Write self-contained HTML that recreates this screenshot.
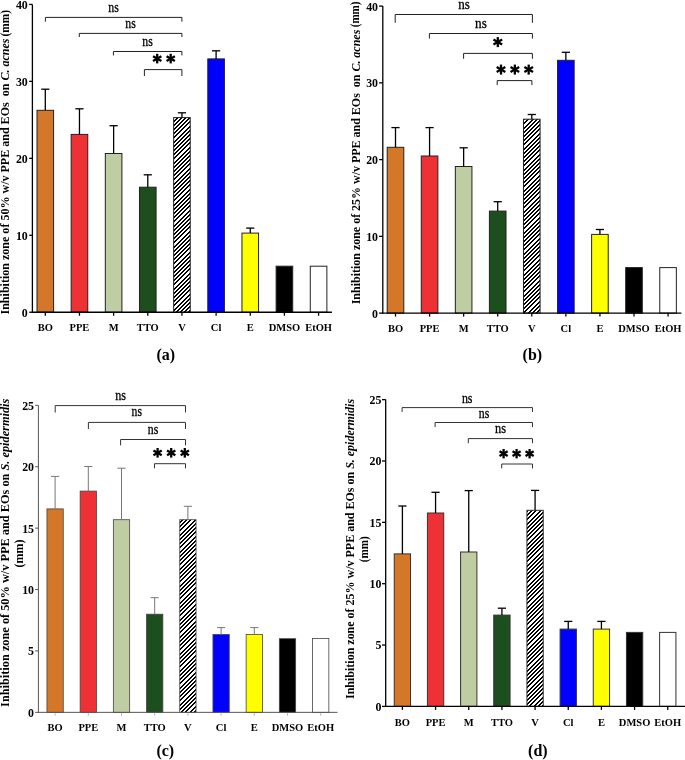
<!DOCTYPE html>
<html><head><meta charset="utf-8"><style>
html,body{margin:0;padding:0;background:#fff;width:685px;height:760px;overflow:hidden}
svg{display:block;font-family:"Liberation Serif",serif;will-change:transform}
</style></head><body>
<svg width="685" height="760" viewBox="0 0 685 760" font-family="Liberation Serif">
<defs><pattern id="h1" patternUnits="userSpaceOnUse" width="21" height="21"><rect width="21" height="21" fill="#fff"/><path d="M-4.200,0H-2.200L-23.200,21H-25.200Z M0.000,0H2.000L-19.000,21H-21.000Z M4.200,0H6.200L-14.800,21H-16.800Z M8.400,0H10.400L-10.600,21H-12.600Z M12.600,0H14.600L-6.400,21H-8.400Z M16.800,0H18.800L-2.200,21H-4.200Z M21.000,0H23.000L2.000,21H0.000Z M25.200,0H27.200L6.200,21H4.200Z M29.400,0H31.400L10.400,21H8.400Z M33.600,0H35.600L14.600,21H12.600Z M37.800,0H39.800L18.800,21H16.800Z M42.000,0H44.000L23.000,21H21.000Z M46.200,0H48.200L27.200,21H25.200Z" fill="#000" shape-rendering="crispEdges"/></pattern><pattern id="h2" patternUnits="userSpaceOnUse" width="17" height="17"><rect width="17" height="17" fill="#fff"/><path d="M-4.250,0H-2.250L-19.250,17H-21.250Z M0.000,0H2.000L-15.000,17H-17.000Z M4.250,0H6.250L-10.750,17H-12.750Z M8.500,0H10.500L-6.500,17H-8.500Z M12.750,0H14.750L-2.250,17H-4.250Z M17.000,0H19.000L2.000,17H0.000Z M21.250,0H23.250L6.250,17H4.250Z M25.500,0H27.500L10.500,17H8.500Z M29.750,0H31.750L14.750,17H12.750Z M34.000,0H36.000L19.000,17H17.000Z M38.250,0H40.250L23.250,17H21.250Z" fill="#000" shape-rendering="crispEdges"/></pattern></defs>
<rect x="37.00" y="110.30" width="16.60" height="201.95" fill="#D57729" stroke="#222" stroke-width="1.0"/>
<line x1="45.30" y1="89.20" x2="45.30" y2="110.30" stroke="#000" stroke-width="1.3"/>
<line x1="41.20" y1="89.20" x2="49.40" y2="89.20" stroke="#000" stroke-width="1.3"/>
<line x1="45.30" y1="312.25" x2="45.30" y2="315.75" stroke="#000" stroke-width="1.3"/>
<text transform="translate(45.30,331.20) scale(1.0000,1)" text-anchor="middle" font-size="10.5" font-weight="bold">BO</text>
<rect x="71.16" y="134.40" width="16.60" height="177.85" fill="#EE3135" stroke="#222" stroke-width="1.0"/>
<line x1="79.46" y1="108.80" x2="79.46" y2="134.40" stroke="#000" stroke-width="1.3"/>
<line x1="75.36" y1="108.80" x2="83.56" y2="108.80" stroke="#000" stroke-width="1.3"/>
<line x1="79.46" y1="312.25" x2="79.46" y2="315.75" stroke="#000" stroke-width="1.3"/>
<text transform="translate(79.46,331.20) scale(1.0000,1)" text-anchor="middle" font-size="10.5" font-weight="bold">PPE</text>
<rect x="105.32" y="153.50" width="16.60" height="158.75" fill="#C0CCA2" stroke="#222" stroke-width="1.0"/>
<line x1="113.62" y1="125.70" x2="113.62" y2="153.50" stroke="#000" stroke-width="1.3"/>
<line x1="109.52" y1="125.70" x2="117.72" y2="125.70" stroke="#000" stroke-width="1.3"/>
<line x1="113.62" y1="312.25" x2="113.62" y2="315.75" stroke="#000" stroke-width="1.3"/>
<text transform="translate(113.62,331.20) scale(1.0000,1)" text-anchor="middle" font-size="10.5" font-weight="bold">M</text>
<rect x="139.48" y="187.20" width="16.60" height="125.05" fill="#1C4E1E" stroke="#222" stroke-width="1.0"/>
<line x1="147.78" y1="174.80" x2="147.78" y2="187.20" stroke="#000" stroke-width="1.3"/>
<line x1="143.68" y1="174.80" x2="151.88" y2="174.80" stroke="#000" stroke-width="1.3"/>
<line x1="147.78" y1="312.25" x2="147.78" y2="315.75" stroke="#000" stroke-width="1.3"/>
<text transform="translate(147.78,331.20) scale(1.0000,1)" text-anchor="middle" font-size="10.5" font-weight="bold">TTO</text>
<rect x="173.64" y="117.60" width="16.60" height="194.65" fill="url(#h1)" stroke="#222" stroke-width="1.0"/>
<line x1="181.94" y1="112.80" x2="181.94" y2="117.60" stroke="#000" stroke-width="1.3"/>
<line x1="177.84" y1="112.80" x2="186.04" y2="112.80" stroke="#000" stroke-width="1.3"/>
<line x1="181.94" y1="312.25" x2="181.94" y2="315.75" stroke="#000" stroke-width="1.3"/>
<text transform="translate(181.94,331.20) scale(1.0000,1)" text-anchor="middle" font-size="10.5" font-weight="bold">V</text>
<rect x="207.80" y="58.90" width="16.60" height="253.35" fill="#0000FF" stroke="#222" stroke-width="1.0"/>
<line x1="216.10" y1="50.80" x2="216.10" y2="58.90" stroke="#000" stroke-width="1.3"/>
<line x1="212.00" y1="50.80" x2="220.20" y2="50.80" stroke="#000" stroke-width="1.3"/>
<line x1="216.10" y1="312.25" x2="216.10" y2="315.75" stroke="#000" stroke-width="1.3"/>
<text transform="translate(216.10,331.20) scale(1.0000,1)" text-anchor="middle" font-size="10.5" font-weight="bold">Cl</text>
<rect x="241.96" y="233.10" width="16.60" height="79.15" fill="#FFFF00" stroke="#222" stroke-width="1.0"/>
<line x1="250.26" y1="228.10" x2="250.26" y2="233.10" stroke="#000" stroke-width="1.3"/>
<line x1="246.16" y1="228.10" x2="254.36" y2="228.10" stroke="#000" stroke-width="1.3"/>
<line x1="250.26" y1="312.25" x2="250.26" y2="315.75" stroke="#000" stroke-width="1.3"/>
<text transform="translate(250.26,331.20) scale(1.0000,1)" text-anchor="middle" font-size="10.5" font-weight="bold">E</text>
<rect x="276.12" y="266.20" width="16.60" height="46.05" fill="#000000" stroke="#222" stroke-width="1.0"/>
<line x1="284.42" y1="312.25" x2="284.42" y2="315.75" stroke="#000" stroke-width="1.3"/>
<text transform="translate(284.42,331.20) scale(1.0000,1)" text-anchor="middle" font-size="10.5" font-weight="bold">DMSO</text>
<rect x="310.28" y="266.20" width="16.60" height="46.05" fill="#FFFFFF" stroke="#222" stroke-width="1.0"/>
<line x1="318.58" y1="312.25" x2="318.58" y2="315.75" stroke="#000" stroke-width="1.3"/>
<text transform="translate(318.58,331.20) scale(1.0000,1)" text-anchor="middle" font-size="10.5" font-weight="bold">EtOH</text>
<line x1="32.40" y1="4.40" x2="32.40" y2="312.90" stroke="#000" stroke-width="1.3"/>
<line x1="31.75" y1="312.25" x2="331.90" y2="312.25" stroke="#000" stroke-width="1.3"/>
<line x1="29.20" y1="312.25" x2="32.40" y2="312.25" stroke="#000" stroke-width="1.3"/>
<text transform="translate(27.80,316.65) scale(0.88,1)" text-anchor="end" font-size="13.5" font-weight="bold">0</text>
<line x1="29.20" y1="235.29" x2="32.40" y2="235.29" stroke="#000" stroke-width="1.3"/>
<text transform="translate(27.80,239.69) scale(0.88,1)" text-anchor="end" font-size="13.5" font-weight="bold">10</text>
<line x1="29.20" y1="158.33" x2="32.40" y2="158.33" stroke="#000" stroke-width="1.3"/>
<text transform="translate(27.80,162.73) scale(0.88,1)" text-anchor="end" font-size="13.5" font-weight="bold">20</text>
<line x1="29.20" y1="81.37" x2="32.40" y2="81.37" stroke="#000" stroke-width="1.3"/>
<text transform="translate(27.80,85.77) scale(0.88,1)" text-anchor="end" font-size="13.5" font-weight="bold">30</text>
<line x1="29.20" y1="4.41" x2="32.40" y2="4.41" stroke="#000" stroke-width="1.3"/>
<text transform="translate(27.80,8.81) scale(0.88,1)" text-anchor="end" font-size="13.5" font-weight="bold">40</text>
<path d="M45.40,21.70V17.40H181.90V21.70" fill="none" stroke="#222" stroke-width="1.0"/>
<path d="M79.30,37.00V33.40H181.90V37.00" fill="none" stroke="#222" stroke-width="1.0"/>
<path d="M113.40,55.40V51.50H181.90V55.40" fill="none" stroke="#222" stroke-width="1.0"/>
<path d="M144.40,76.00V69.60H181.90V76.00" fill="none" stroke="#222" stroke-width="1.0"/>
<text transform="translate(108.35,11.80) scale(1.009,1.22)" font-size="11.7" stroke="#000" stroke-width="0.25">ns</text>
<text transform="translate(125.35,27.70) scale(1.009,1.22)" font-size="11.7" stroke="#000" stroke-width="0.25">ns</text>
<text transform="translate(142.35,46.30) scale(1.009,1.22)" font-size="11.7" stroke="#000" stroke-width="0.25">ns</text>
<g stroke="#000" stroke-width="2.3"><line x1="157.20" y1="63.40" x2="157.20" y2="53.80"/><line x1="153.04" y1="61.00" x2="161.36" y2="56.20"/><line x1="161.36" y1="61.00" x2="153.04" y2="56.20"/></g>
<g stroke="#000" stroke-width="2.3"><line x1="170.70" y1="63.40" x2="170.70" y2="53.80"/><line x1="166.54" y1="61.00" x2="174.86" y2="56.20"/><line x1="174.86" y1="61.00" x2="166.54" y2="56.20"/></g>
<text transform="translate(8.70,314.50) rotate(-90)" font-size="11.8" font-weight="bold" textLength="276.00" lengthAdjust="spacingAndGlyphs">Inhibition zone of 50% w/v PPE and EOs&#160; on <tspan font-style="italic">C. acnes</tspan></text>
<text transform="translate(8.90,36.40) rotate(-90)" font-size="12.5" font-weight="bold" textLength="26.40" lengthAdjust="spacingAndGlyphs">(mm)</text>
<text transform="translate(165.80,359.90) scale(0.97,1)" text-anchor="middle" font-size="16.5" font-weight="bold">(a)</text>
<rect x="387.20" y="147.30" width="16.60" height="165.80" fill="#D57729" stroke="#222" stroke-width="1.0"/>
<line x1="395.50" y1="127.60" x2="395.50" y2="147.30" stroke="#000" stroke-width="1.3"/>
<line x1="391.40" y1="127.60" x2="399.60" y2="127.60" stroke="#000" stroke-width="1.3"/>
<line x1="395.50" y1="313.10" x2="395.50" y2="316.60" stroke="#000" stroke-width="1.3"/>
<text transform="translate(395.50,331.90) scale(1.0000,1)" text-anchor="middle" font-size="10.5" font-weight="bold">BO</text>
<rect x="421.27" y="156.00" width="16.60" height="157.10" fill="#EE3135" stroke="#222" stroke-width="1.0"/>
<line x1="429.57" y1="127.60" x2="429.57" y2="156.00" stroke="#000" stroke-width="1.3"/>
<line x1="425.47" y1="127.60" x2="433.67" y2="127.60" stroke="#000" stroke-width="1.3"/>
<line x1="429.57" y1="313.10" x2="429.57" y2="316.60" stroke="#000" stroke-width="1.3"/>
<text transform="translate(429.57,331.90) scale(1.0000,1)" text-anchor="middle" font-size="10.5" font-weight="bold">PPE</text>
<rect x="455.34" y="166.50" width="16.60" height="146.60" fill="#C0CCA2" stroke="#222" stroke-width="1.0"/>
<line x1="463.64" y1="147.80" x2="463.64" y2="166.50" stroke="#000" stroke-width="1.3"/>
<line x1="459.54" y1="147.80" x2="467.74" y2="147.80" stroke="#000" stroke-width="1.3"/>
<line x1="463.64" y1="313.10" x2="463.64" y2="316.60" stroke="#000" stroke-width="1.3"/>
<text transform="translate(463.64,331.90) scale(1.0000,1)" text-anchor="middle" font-size="10.5" font-weight="bold">M</text>
<rect x="489.41" y="211.10" width="16.60" height="102.00" fill="#1C4E1E" stroke="#222" stroke-width="1.0"/>
<line x1="497.71" y1="201.70" x2="497.71" y2="211.10" stroke="#000" stroke-width="1.3"/>
<line x1="493.61" y1="201.70" x2="501.81" y2="201.70" stroke="#000" stroke-width="1.3"/>
<line x1="497.71" y1="313.10" x2="497.71" y2="316.60" stroke="#000" stroke-width="1.3"/>
<text transform="translate(497.71,331.90) scale(1.0000,1)" text-anchor="middle" font-size="10.5" font-weight="bold">TTO</text>
<rect x="523.48" y="119.20" width="16.60" height="193.90" fill="url(#h1)" stroke="#222" stroke-width="1.0"/>
<line x1="531.78" y1="114.50" x2="531.78" y2="119.20" stroke="#000" stroke-width="1.3"/>
<line x1="527.68" y1="114.50" x2="535.88" y2="114.50" stroke="#000" stroke-width="1.3"/>
<line x1="531.78" y1="313.10" x2="531.78" y2="316.60" stroke="#000" stroke-width="1.3"/>
<text transform="translate(531.78,331.90) scale(1.0000,1)" text-anchor="middle" font-size="10.5" font-weight="bold">V</text>
<rect x="557.55" y="60.30" width="16.60" height="252.80" fill="#0000FF" stroke="#222" stroke-width="1.0"/>
<line x1="565.85" y1="52.30" x2="565.85" y2="60.30" stroke="#000" stroke-width="1.3"/>
<line x1="561.75" y1="52.30" x2="569.95" y2="52.30" stroke="#000" stroke-width="1.3"/>
<line x1="565.85" y1="313.10" x2="565.85" y2="316.60" stroke="#000" stroke-width="1.3"/>
<text transform="translate(565.85,331.90) scale(1.0000,1)" text-anchor="middle" font-size="10.5" font-weight="bold">Cl</text>
<rect x="591.62" y="234.40" width="16.60" height="78.70" fill="#FFFF00" stroke="#222" stroke-width="1.0"/>
<line x1="599.92" y1="229.50" x2="599.92" y2="234.40" stroke="#000" stroke-width="1.3"/>
<line x1="595.82" y1="229.50" x2="604.02" y2="229.50" stroke="#000" stroke-width="1.3"/>
<line x1="599.92" y1="313.10" x2="599.92" y2="316.60" stroke="#000" stroke-width="1.3"/>
<text transform="translate(599.92,331.90) scale(1.0000,1)" text-anchor="middle" font-size="10.5" font-weight="bold">E</text>
<rect x="625.69" y="267.60" width="16.60" height="45.50" fill="#000000" stroke="#222" stroke-width="1.0"/>
<line x1="633.99" y1="313.10" x2="633.99" y2="316.60" stroke="#000" stroke-width="1.3"/>
<text transform="translate(633.99,331.90) scale(1.0000,1)" text-anchor="middle" font-size="10.5" font-weight="bold">DMSO</text>
<rect x="659.76" y="267.60" width="16.60" height="45.50" fill="#FFFFFF" stroke="#222" stroke-width="1.0"/>
<line x1="668.06" y1="313.10" x2="668.06" y2="316.60" stroke="#000" stroke-width="1.3"/>
<text transform="translate(668.06,331.90) scale(1.0000,1)" text-anchor="middle" font-size="10.5" font-weight="bold">EtOH</text>
<line x1="382.80" y1="6.10" x2="382.80" y2="313.75" stroke="#000" stroke-width="1.3"/>
<line x1="382.15" y1="313.10" x2="681.40" y2="313.10" stroke="#000" stroke-width="1.3"/>
<line x1="379.10" y1="313.10" x2="382.80" y2="313.10" stroke="#000" stroke-width="1.3"/>
<text transform="translate(378.00,317.50) scale(0.88,1)" text-anchor="end" font-size="13.5" font-weight="bold">0</text>
<line x1="379.10" y1="236.35" x2="382.80" y2="236.35" stroke="#000" stroke-width="1.3"/>
<text transform="translate(378.00,240.75) scale(0.88,1)" text-anchor="end" font-size="13.5" font-weight="bold">10</text>
<line x1="379.10" y1="159.60" x2="382.80" y2="159.60" stroke="#000" stroke-width="1.3"/>
<text transform="translate(378.00,164.00) scale(0.88,1)" text-anchor="end" font-size="13.5" font-weight="bold">20</text>
<line x1="379.10" y1="82.85" x2="382.80" y2="82.85" stroke="#000" stroke-width="1.3"/>
<text transform="translate(378.00,87.25) scale(0.88,1)" text-anchor="end" font-size="13.5" font-weight="bold">30</text>
<line x1="379.10" y1="6.10" x2="382.80" y2="6.10" stroke="#000" stroke-width="1.3"/>
<text transform="translate(378.00,10.50) scale(0.88,1)" text-anchor="end" font-size="13.5" font-weight="bold">40</text>
<path d="M395.20,22.80V14.50H532.40V22.80" fill="none" stroke="#222" stroke-width="1.0"/>
<path d="M429.40,38.60V33.50H532.40V38.60" fill="none" stroke="#222" stroke-width="1.0"/>
<path d="M463.60,58.80V53.40H532.40V58.80" fill="none" stroke="#222" stroke-width="1.0"/>
<path d="M497.20,85.10V80.60H531.90V85.10" fill="none" stroke="#222" stroke-width="1.0"/>
<text transform="translate(458.30,9.20) scale(1.115,1.22)" font-size="11.7" stroke="#000" stroke-width="0.25">ns</text>
<text transform="translate(475.10,28.40) scale(1.134,1.22)" font-size="11.7" stroke="#000" stroke-width="0.25">ns</text>
<g stroke="#000" stroke-width="2.3"><line x1="497.80" y1="47.10" x2="497.80" y2="37.10"/><line x1="493.47" y1="44.60" x2="502.13" y2="39.60"/><line x1="502.13" y1="44.60" x2="493.47" y2="39.60"/></g>
<g stroke="#000" stroke-width="2.3"><line x1="501.00" y1="74.60" x2="501.00" y2="64.60"/><line x1="496.67" y1="72.10" x2="505.33" y2="67.10"/><line x1="505.33" y1="72.10" x2="496.67" y2="67.10"/></g>
<g stroke="#000" stroke-width="2.3"><line x1="514.85" y1="74.60" x2="514.85" y2="64.60"/><line x1="510.52" y1="72.10" x2="519.18" y2="67.10"/><line x1="519.18" y1="72.10" x2="510.52" y2="67.10"/></g>
<g stroke="#000" stroke-width="2.3"><line x1="528.70" y1="74.60" x2="528.70" y2="64.60"/><line x1="524.37" y1="72.10" x2="533.03" y2="67.10"/><line x1="533.03" y1="72.10" x2="524.37" y2="67.10"/></g>
<text transform="translate(359.60,304.30) rotate(-90)" font-size="11.8" font-weight="bold" textLength="274.60" lengthAdjust="spacingAndGlyphs">Inhibition zone of 25% w/v PPE and EOs&#160; on <tspan font-style="italic">C. acnes</tspan></text>
<text transform="translate(358.90,27.20) rotate(-90)" font-size="11.6" font-weight="bold" textLength="25.60" lengthAdjust="spacingAndGlyphs">(mm)</text>
<text transform="translate(532.35,360.00) scale(0.97,1)" text-anchor="middle" font-size="16.5" font-weight="bold">(b)</text>
<rect x="46.95" y="508.90" width="16.30" height="203.45" fill="#D57729" stroke="#444" stroke-width="0.8"/>
<line x1="55.10" y1="476.40" x2="55.10" y2="508.90" stroke="#777" stroke-width="1.0"/>
<line x1="51.00" y1="476.40" x2="59.20" y2="476.40" stroke="#777" stroke-width="1.0"/>
<line x1="55.10" y1="712.35" x2="55.10" y2="715.75" stroke="#bbb" stroke-width="1.0"/>
<text transform="translate(55.10,731.00) scale(1.0000,1)" text-anchor="middle" font-size="10.5" font-weight="bold">BO</text>
<rect x="80.15" y="491.10" width="16.30" height="221.25" fill="#EE3135" stroke="#444" stroke-width="0.8"/>
<line x1="88.30" y1="466.50" x2="88.30" y2="491.10" stroke="#777" stroke-width="1.0"/>
<line x1="84.20" y1="466.50" x2="92.40" y2="466.50" stroke="#777" stroke-width="1.0"/>
<line x1="88.30" y1="712.35" x2="88.30" y2="715.75" stroke="#bbb" stroke-width="1.0"/>
<text transform="translate(88.30,731.00) scale(1.0000,1)" text-anchor="middle" font-size="10.5" font-weight="bold">PPE</text>
<rect x="113.35" y="519.70" width="16.30" height="192.65" fill="#C0CCA2" stroke="#444" stroke-width="0.8"/>
<line x1="121.50" y1="468.20" x2="121.50" y2="519.70" stroke="#777" stroke-width="1.0"/>
<line x1="117.40" y1="468.20" x2="125.60" y2="468.20" stroke="#777" stroke-width="1.0"/>
<line x1="121.50" y1="712.35" x2="121.50" y2="715.75" stroke="#bbb" stroke-width="1.0"/>
<text transform="translate(121.50,731.00) scale(1.0000,1)" text-anchor="middle" font-size="10.5" font-weight="bold">M</text>
<rect x="146.55" y="614.20" width="16.30" height="98.15" fill="#1C4E1E" stroke="#444" stroke-width="0.8"/>
<line x1="154.70" y1="597.70" x2="154.70" y2="614.20" stroke="#777" stroke-width="1.0"/>
<line x1="150.60" y1="597.70" x2="158.80" y2="597.70" stroke="#777" stroke-width="1.0"/>
<line x1="154.70" y1="712.35" x2="154.70" y2="715.75" stroke="#bbb" stroke-width="1.0"/>
<text transform="translate(154.70,731.00) scale(1.0000,1)" text-anchor="middle" font-size="10.5" font-weight="bold">TTO</text>
<rect x="179.75" y="519.70" width="16.30" height="192.65" fill="url(#h2)" stroke="#444" stroke-width="0.8"/>
<line x1="187.90" y1="506.30" x2="187.90" y2="519.70" stroke="#777" stroke-width="1.0"/>
<line x1="183.80" y1="506.30" x2="192.00" y2="506.30" stroke="#777" stroke-width="1.0"/>
<line x1="187.90" y1="712.35" x2="187.90" y2="715.75" stroke="#bbb" stroke-width="1.0"/>
<text transform="translate(187.90,731.00) scale(1.0000,1)" text-anchor="middle" font-size="10.5" font-weight="bold">V</text>
<rect x="212.95" y="634.50" width="16.30" height="77.85" fill="#0000FF" stroke="#444" stroke-width="0.8"/>
<line x1="221.10" y1="627.60" x2="221.10" y2="634.50" stroke="#777" stroke-width="1.0"/>
<line x1="217.00" y1="627.60" x2="225.20" y2="627.60" stroke="#777" stroke-width="1.0"/>
<line x1="221.10" y1="712.35" x2="221.10" y2="715.75" stroke="#bbb" stroke-width="1.0"/>
<text transform="translate(221.10,731.00) scale(1.0000,1)" text-anchor="middle" font-size="10.5" font-weight="bold">Cl</text>
<rect x="246.15" y="634.50" width="16.30" height="77.85" fill="#FFFF00" stroke="#444" stroke-width="0.8"/>
<line x1="254.30" y1="627.60" x2="254.30" y2="634.50" stroke="#777" stroke-width="1.0"/>
<line x1="250.20" y1="627.60" x2="258.40" y2="627.60" stroke="#777" stroke-width="1.0"/>
<line x1="254.30" y1="712.35" x2="254.30" y2="715.75" stroke="#bbb" stroke-width="1.0"/>
<text transform="translate(254.30,731.00) scale(1.0000,1)" text-anchor="middle" font-size="10.5" font-weight="bold">E</text>
<rect x="279.35" y="638.70" width="16.30" height="73.65" fill="#000000" stroke="#444" stroke-width="0.8"/>
<line x1="287.50" y1="712.35" x2="287.50" y2="715.75" stroke="#bbb" stroke-width="1.0"/>
<text transform="translate(287.50,731.00) scale(1.0000,1)" text-anchor="middle" font-size="10.5" font-weight="bold">DMSO</text>
<rect x="312.55" y="638.40" width="16.30" height="73.95" fill="#FFFFFF" stroke="#444" stroke-width="0.8"/>
<line x1="320.70" y1="712.35" x2="320.70" y2="715.75" stroke="#bbb" stroke-width="1.0"/>
<text transform="translate(320.70,731.00) scale(1.0000,1)" text-anchor="middle" font-size="10.5" font-weight="bold">EtOH</text>
<line x1="38.40" y1="405.30" x2="38.40" y2="712.85" stroke="#555" stroke-width="1.0"/>
<line x1="37.90" y1="712.35" x2="337.50" y2="712.35" stroke="#555" stroke-width="1.0"/>
<line x1="35.20" y1="712.35" x2="38.40" y2="712.35" stroke="#555" stroke-width="1.0"/>
<text transform="translate(34.00,716.75) scale(0.88,1)" text-anchor="end" font-size="13.5" font-weight="bold">0</text>
<line x1="35.20" y1="650.95" x2="38.40" y2="650.95" stroke="#555" stroke-width="1.0"/>
<text transform="translate(34.00,655.35) scale(0.88,1)" text-anchor="end" font-size="13.5" font-weight="bold">5</text>
<line x1="35.20" y1="589.55" x2="38.40" y2="589.55" stroke="#555" stroke-width="1.0"/>
<text transform="translate(34.00,593.95) scale(0.88,1)" text-anchor="end" font-size="13.5" font-weight="bold">10</text>
<line x1="35.20" y1="528.15" x2="38.40" y2="528.15" stroke="#555" stroke-width="1.0"/>
<text transform="translate(34.00,532.55) scale(0.88,1)" text-anchor="end" font-size="13.5" font-weight="bold">15</text>
<line x1="35.20" y1="466.75" x2="38.40" y2="466.75" stroke="#555" stroke-width="1.0"/>
<text transform="translate(34.00,471.15) scale(0.88,1)" text-anchor="end" font-size="13.5" font-weight="bold">20</text>
<line x1="35.20" y1="405.35" x2="38.40" y2="405.35" stroke="#555" stroke-width="1.0"/>
<text transform="translate(34.00,409.75) scale(0.88,1)" text-anchor="end" font-size="13.5" font-weight="bold">25</text>
<path d="M55.20,412.50V405.60H185.50V412.50" fill="none" stroke="#333" stroke-width="1.0"/>
<path d="M88.40,429.00V422.40H185.50V429.00" fill="none" stroke="#333" stroke-width="1.0"/>
<path d="M120.60,445.40V439.50H185.50V445.40" fill="none" stroke="#333" stroke-width="1.0"/>
<path d="M154.50,468.30V463.70H185.50V468.30" fill="none" stroke="#333" stroke-width="1.0"/>
<text transform="translate(115.20,400.00) scale(1.038,1.22)" font-size="11.7" stroke="#000" stroke-width="0.25">ns</text>
<text transform="translate(131.60,416.40) scale(1.000,1.22)" font-size="11.7" stroke="#000" stroke-width="0.25">ns</text>
<text transform="translate(147.85,434.40) scale(1.009,1.22)" font-size="11.7" stroke="#000" stroke-width="0.25">ns</text>
<g stroke="#000" stroke-width="2.3"><line x1="157.60" y1="457.60" x2="157.60" y2="448.00"/><line x1="153.44" y1="455.20" x2="161.76" y2="450.40"/><line x1="161.76" y1="455.20" x2="153.44" y2="450.40"/></g>
<g stroke="#000" stroke-width="2.3"><line x1="171.20" y1="457.60" x2="171.20" y2="448.00"/><line x1="167.04" y1="455.20" x2="175.36" y2="450.40"/><line x1="175.36" y1="455.20" x2="167.04" y2="450.40"/></g>
<g stroke="#000" stroke-width="2.3"><line x1="184.80" y1="457.60" x2="184.80" y2="448.00"/><line x1="180.64" y1="455.20" x2="188.96" y2="450.40"/><line x1="188.96" y1="455.20" x2="180.64" y2="450.40"/></g>
<text transform="translate(9.40,706.90) rotate(-90)" font-size="11.8" font-weight="bold" textLength="308.20" lengthAdjust="spacingAndGlyphs">Inhibition zone of 50% w/v PPE and EOs on <tspan font-style="italic">S. epidermidis</tspan></text>
<text transform="translate(23.10,567.40) rotate(-90)" font-size="11.8" font-weight="bold" textLength="27.80" lengthAdjust="spacingAndGlyphs">(mm)</text>
<text transform="translate(165.30,756.00) scale(0.97,1)" text-anchor="middle" font-size="16.5" font-weight="bold">(c)</text>
<rect x="394.25" y="553.90" width="16.30" height="152.50" fill="#D57729" stroke="#333" stroke-width="1.0"/>
<line x1="402.40" y1="506.00" x2="402.40" y2="553.90" stroke="#000" stroke-width="1.3"/>
<line x1="398.30" y1="506.00" x2="406.50" y2="506.00" stroke="#000" stroke-width="1.3"/>
<line x1="402.40" y1="706.40" x2="402.40" y2="709.90" stroke="#000" stroke-width="1.3"/>
<text transform="translate(402.40,725.60) scale(1.0000,1)" text-anchor="middle" font-size="10.5" font-weight="bold">BO</text>
<rect x="427.42" y="513.00" width="16.30" height="193.40" fill="#EE3135" stroke="#333" stroke-width="1.0"/>
<line x1="435.57" y1="492.30" x2="435.57" y2="513.00" stroke="#000" stroke-width="1.3"/>
<line x1="431.47" y1="492.30" x2="439.67" y2="492.30" stroke="#000" stroke-width="1.3"/>
<line x1="435.57" y1="706.40" x2="435.57" y2="709.90" stroke="#000" stroke-width="1.3"/>
<text transform="translate(435.57,725.60) scale(1.0000,1)" text-anchor="middle" font-size="10.5" font-weight="bold">PPE</text>
<rect x="460.59" y="552.00" width="16.30" height="154.40" fill="#C0CCA2" stroke="#333" stroke-width="1.0"/>
<line x1="468.74" y1="490.60" x2="468.74" y2="552.00" stroke="#000" stroke-width="1.3"/>
<line x1="464.64" y1="490.60" x2="472.84" y2="490.60" stroke="#000" stroke-width="1.3"/>
<line x1="468.74" y1="706.40" x2="468.74" y2="709.90" stroke="#000" stroke-width="1.3"/>
<text transform="translate(468.74,725.60) scale(1.0000,1)" text-anchor="middle" font-size="10.5" font-weight="bold">M</text>
<rect x="493.76" y="615.10" width="16.30" height="91.30" fill="#1C4E1E" stroke="#333" stroke-width="1.0"/>
<line x1="501.91" y1="608.20" x2="501.91" y2="615.10" stroke="#000" stroke-width="1.3"/>
<line x1="497.81" y1="608.20" x2="506.01" y2="608.20" stroke="#000" stroke-width="1.3"/>
<line x1="501.91" y1="706.40" x2="501.91" y2="709.90" stroke="#000" stroke-width="1.3"/>
<text transform="translate(501.91,725.60) scale(1.0000,1)" text-anchor="middle" font-size="10.5" font-weight="bold">TTO</text>
<rect x="526.93" y="510.30" width="16.30" height="196.10" fill="url(#h1)" stroke="#333" stroke-width="1.0"/>
<line x1="535.08" y1="490.40" x2="535.08" y2="510.30" stroke="#000" stroke-width="1.3"/>
<line x1="530.98" y1="490.40" x2="539.18" y2="490.40" stroke="#000" stroke-width="1.3"/>
<line x1="535.08" y1="706.40" x2="535.08" y2="709.90" stroke="#000" stroke-width="1.3"/>
<text transform="translate(535.08,725.60) scale(1.0000,1)" text-anchor="middle" font-size="10.5" font-weight="bold">V</text>
<rect x="560.10" y="629.10" width="16.30" height="77.30" fill="#0000FF" stroke="#333" stroke-width="1.0"/>
<line x1="568.25" y1="621.40" x2="568.25" y2="629.10" stroke="#000" stroke-width="1.3"/>
<line x1="564.15" y1="621.40" x2="572.35" y2="621.40" stroke="#000" stroke-width="1.3"/>
<line x1="568.25" y1="706.40" x2="568.25" y2="709.90" stroke="#000" stroke-width="1.3"/>
<text transform="translate(568.25,725.60) scale(1.0000,1)" text-anchor="middle" font-size="10.5" font-weight="bold">Cl</text>
<rect x="593.27" y="629.10" width="16.30" height="77.30" fill="#FFFF00" stroke="#333" stroke-width="1.0"/>
<line x1="601.42" y1="621.40" x2="601.42" y2="629.10" stroke="#000" stroke-width="1.3"/>
<line x1="597.32" y1="621.40" x2="605.52" y2="621.40" stroke="#000" stroke-width="1.3"/>
<line x1="601.42" y1="706.40" x2="601.42" y2="709.90" stroke="#000" stroke-width="1.3"/>
<text transform="translate(601.42,725.60) scale(1.0000,1)" text-anchor="middle" font-size="10.5" font-weight="bold">E</text>
<rect x="626.44" y="632.40" width="16.30" height="74.00" fill="#000000" stroke="#333" stroke-width="1.0"/>
<line x1="634.59" y1="706.40" x2="634.59" y2="709.90" stroke="#000" stroke-width="1.3"/>
<text transform="translate(634.59,725.60) scale(1.0000,1)" text-anchor="middle" font-size="10.5" font-weight="bold">DMSO</text>
<rect x="659.61" y="632.40" width="16.30" height="74.00" fill="#FFFFFF" stroke="#333" stroke-width="1.0"/>
<line x1="667.76" y1="706.40" x2="667.76" y2="709.90" stroke="#000" stroke-width="1.3"/>
<text transform="translate(667.76,725.60) scale(1.0000,1)" text-anchor="middle" font-size="10.5" font-weight="bold">EtOH</text>
<line x1="385.70" y1="399.50" x2="385.70" y2="707.05" stroke="#000" stroke-width="1.3"/>
<line x1="385.05" y1="706.40" x2="685.00" y2="706.40" stroke="#000" stroke-width="1.3"/>
<line x1="382.00" y1="706.40" x2="385.70" y2="706.40" stroke="#000" stroke-width="1.3"/>
<text transform="translate(381.40,710.80) scale(0.88,1)" text-anchor="end" font-size="13.5" font-weight="bold">0</text>
<line x1="382.00" y1="645.05" x2="385.70" y2="645.05" stroke="#000" stroke-width="1.3"/>
<text transform="translate(381.40,649.45) scale(0.88,1)" text-anchor="end" font-size="13.5" font-weight="bold">5</text>
<line x1="382.00" y1="583.70" x2="385.70" y2="583.70" stroke="#000" stroke-width="1.3"/>
<text transform="translate(381.40,588.10) scale(0.88,1)" text-anchor="end" font-size="13.5" font-weight="bold">10</text>
<line x1="382.00" y1="522.35" x2="385.70" y2="522.35" stroke="#000" stroke-width="1.3"/>
<text transform="translate(381.40,526.75) scale(0.88,1)" text-anchor="end" font-size="13.5" font-weight="bold">15</text>
<line x1="382.00" y1="461.00" x2="385.70" y2="461.00" stroke="#000" stroke-width="1.3"/>
<text transform="translate(381.40,465.40) scale(0.88,1)" text-anchor="end" font-size="13.5" font-weight="bold">20</text>
<line x1="382.00" y1="399.65" x2="385.70" y2="399.65" stroke="#000" stroke-width="1.3"/>
<text transform="translate(381.40,404.05) scale(0.88,1)" text-anchor="end" font-size="13.5" font-weight="bold">25</text>
<path d="M402.10,411.90V407.60H532.50V411.90" fill="none" stroke="#333" stroke-width="1.0"/>
<path d="M435.10,427.10V422.50H532.50V427.10" fill="none" stroke="#333" stroke-width="1.0"/>
<path d="M468.30,443.20V438.60H532.50V443.20" fill="none" stroke="#333" stroke-width="1.0"/>
<path d="M501.70,468.40V464.00H532.50V468.40" fill="none" stroke="#333" stroke-width="1.0"/>
<text transform="translate(461.90,402.50) scale(1.019,1.22)" font-size="11.7" stroke="#000" stroke-width="0.25">ns</text>
<text transform="translate(478.75,417.70) scale(1.009,1.22)" font-size="11.7" stroke="#000" stroke-width="0.25">ns</text>
<text transform="translate(495.10,433.40) scale(1.058,1.22)" font-size="11.7" stroke="#000" stroke-width="0.25">ns</text>
<g stroke="#000" stroke-width="2.3"><line x1="503.60" y1="458.40" x2="503.60" y2="449.00"/><line x1="499.53" y1="456.05" x2="507.67" y2="451.35"/><line x1="507.67" y1="456.05" x2="499.53" y2="451.35"/></g>
<g stroke="#000" stroke-width="2.3"><line x1="516.60" y1="458.40" x2="516.60" y2="449.00"/><line x1="512.53" y1="456.05" x2="520.67" y2="451.35"/><line x1="520.67" y1="456.05" x2="512.53" y2="451.35"/></g>
<g stroke="#000" stroke-width="2.3"><line x1="529.60" y1="458.40" x2="529.60" y2="449.00"/><line x1="525.53" y1="456.05" x2="533.67" y2="451.35"/><line x1="533.67" y1="456.05" x2="525.53" y2="451.35"/></g>
<text transform="translate(354.40,699.00) rotate(-90)" font-size="11.8" font-weight="bold" textLength="300.10" lengthAdjust="spacingAndGlyphs">Inhibition zone of 25% w/v PPE and EOs on <tspan font-style="italic">S. epidermidis</tspan></text>
<text transform="translate(368.40,562.20) rotate(-90)" font-size="11.8" font-weight="bold" textLength="26.00" lengthAdjust="spacingAndGlyphs">(mm)</text>
<text transform="translate(537.90,756.00) scale(0.97,1)" text-anchor="middle" font-size="16.5" font-weight="bold">(d)</text>
</svg></body></html>
